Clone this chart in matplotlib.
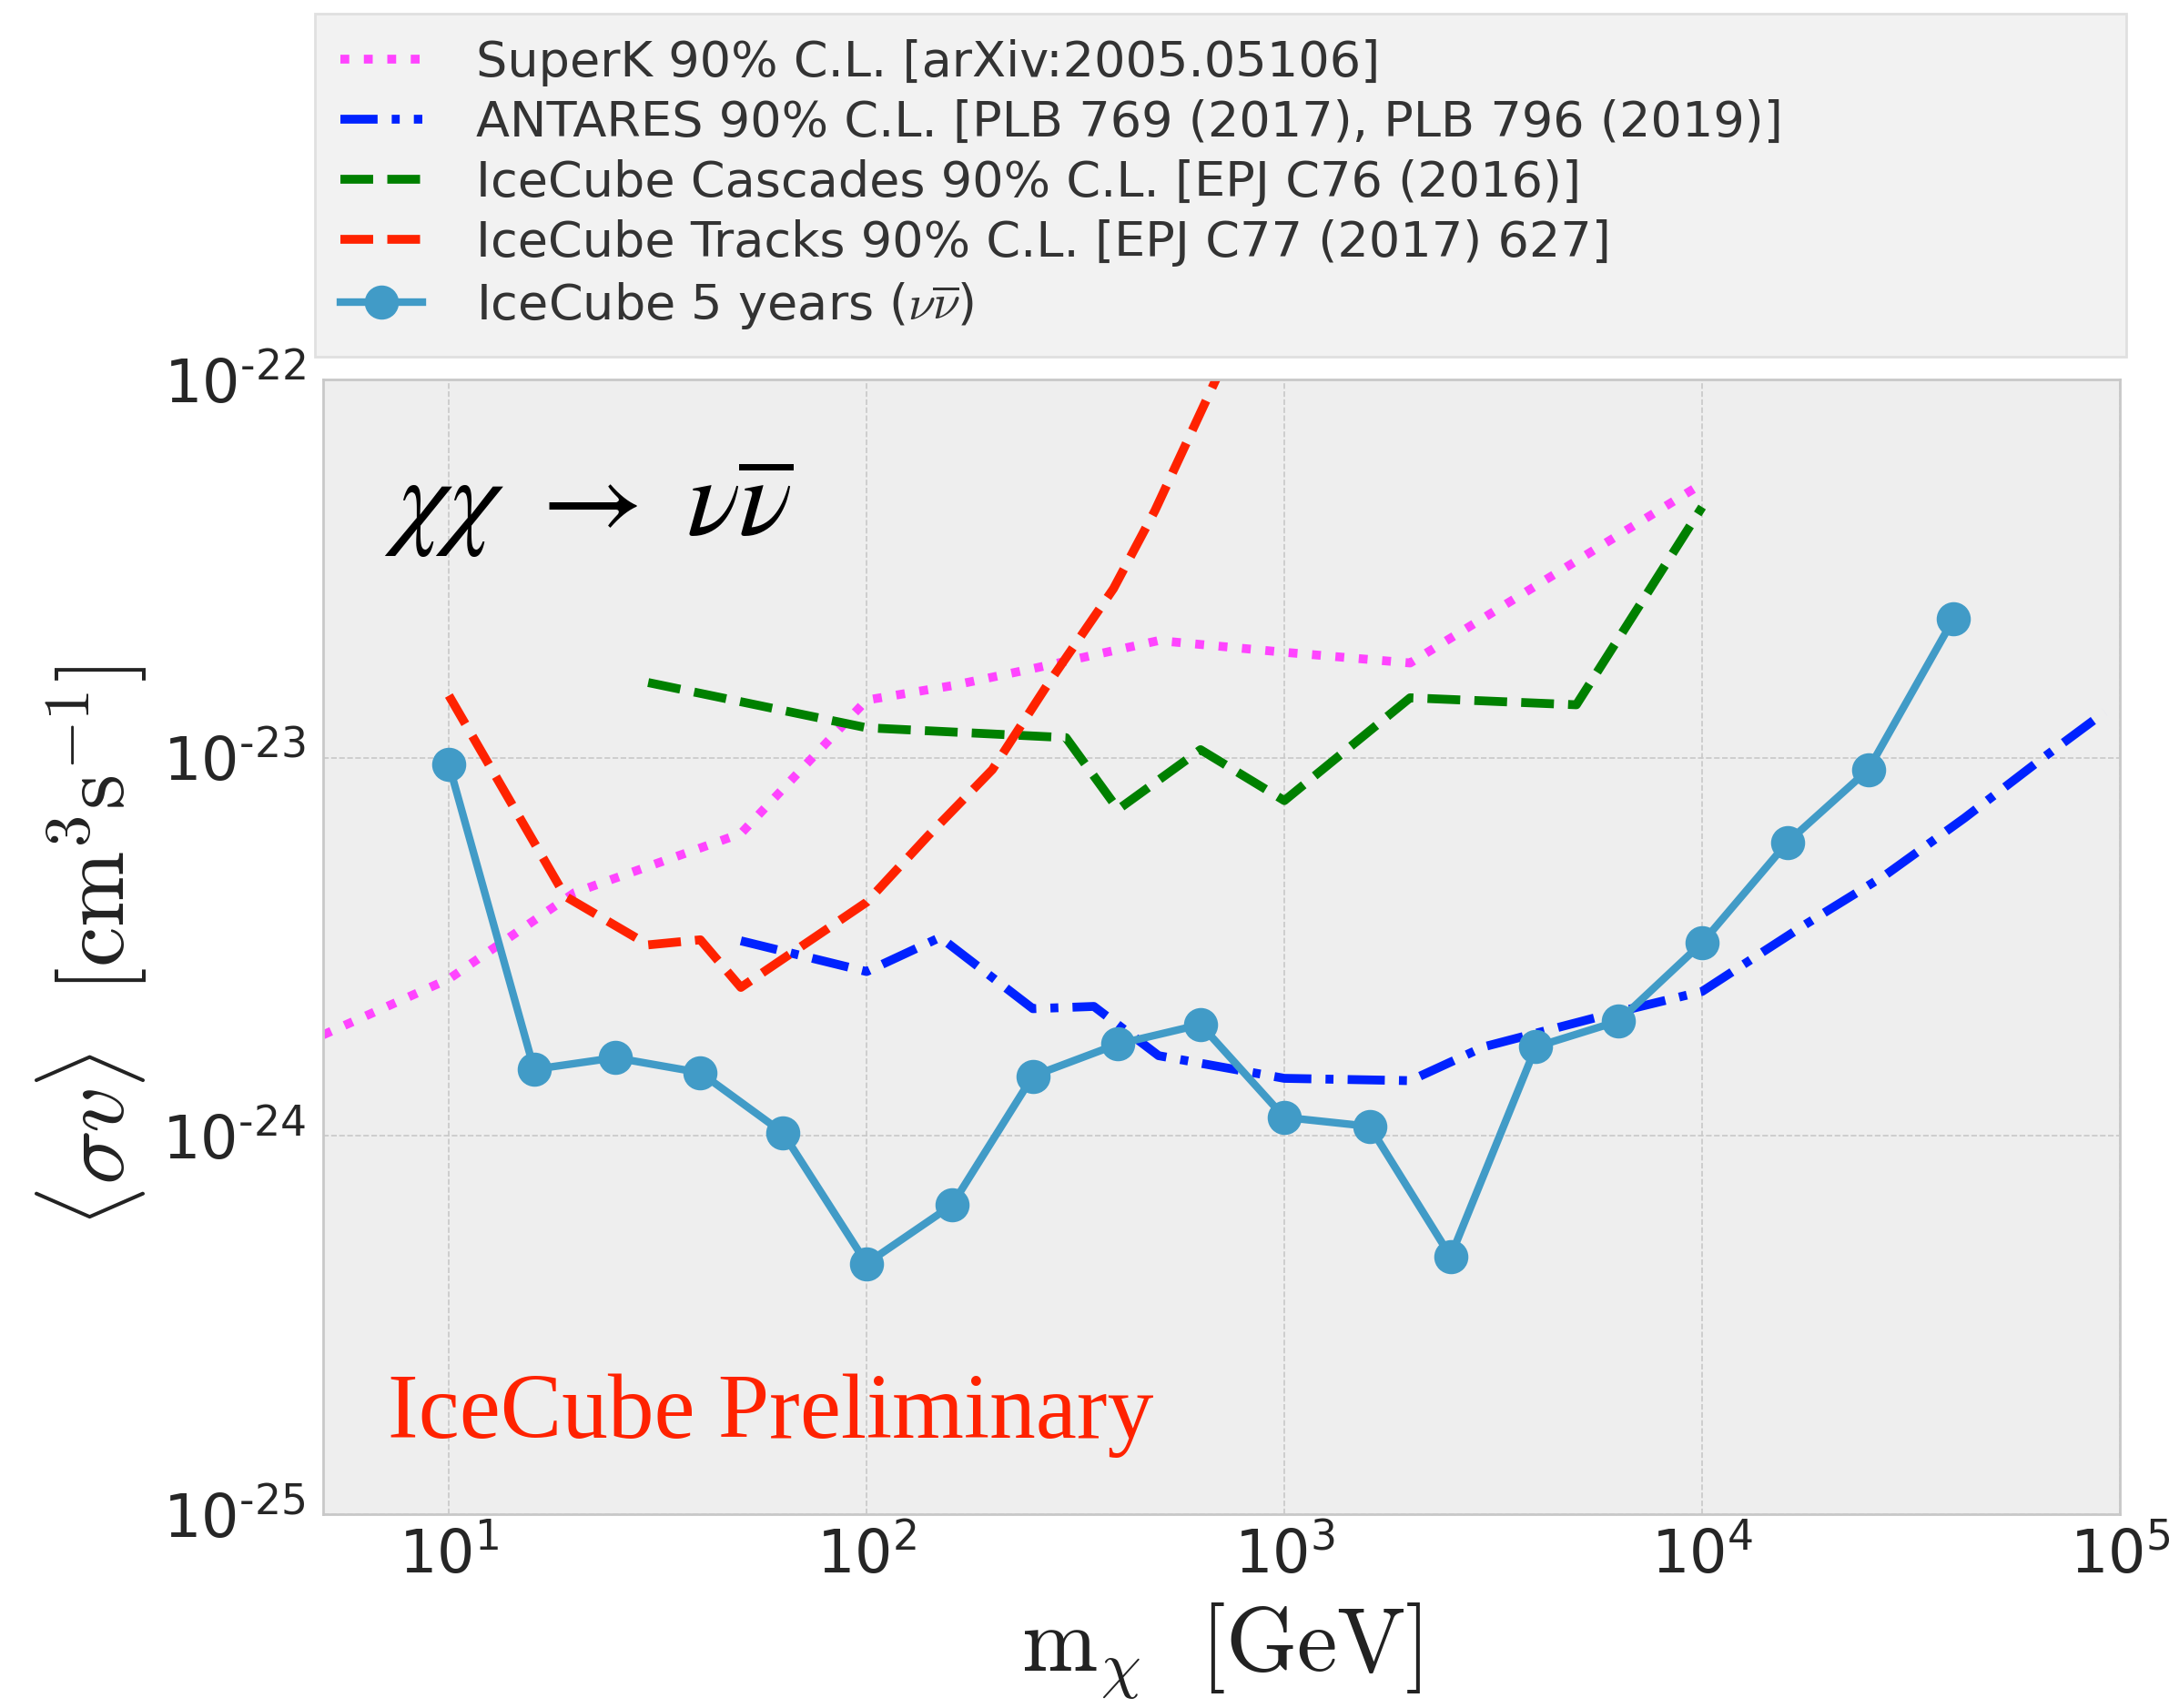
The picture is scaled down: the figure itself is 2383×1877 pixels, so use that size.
import math
import matplotlib
matplotlib.use('Agg')
from matplotlib import pyplot as plt
from matplotlib.ticker import FixedLocator, FuncFormatter, NullLocator

# SuperK 90% C.L.
superk_m = [5, 10, 20, 50, 100, 160, 250, 500, 1000, 2000, 10000]
superk_sv = [1.85e-24, 2.6e-24, 4.4e-24, 6.3e-24, 1.42e-23, 1.55e-23, 1.72e-23,
             2.04e-23, 1.9e-23, 1.78e-23, 5.3e-23]

# ANTARES 90% C.L.
antares_m = [50, 100, 150, 250, 350, 500, 1000, 2000, 3000, 6000, 10000,
             12500, 17500, 27500, 42500, 65000, 92000]
antares_sv = [3.28e-24, 2.72e-24, 3.35e-24, 2.17e-24, 2.2e-24, 1.63e-24, 1.42e-24,
              1.4e-24, 1.72e-24, 2.1e-24, 2.41e-24, 2.83e-24, 3.6e-24, 4.9e-24,
              6.93e-24, 9.93e-24, 1.32e-23]

# IceCube cascades 90% C.L.
casc_m = [30, 100, 300, 400, 630, 1000, 2000, 5000, 10000]
casc_sv = [1.58e-23, 1.2e-23, 1.13e-23, 7.3e-24, 1.05e-23, 7.7e-24, 1.44e-23,
           1.38e-23, 4.6e-23]

# IceCube tracks 90% C.L.
tracks_m = [10, 19, 30, 40, 50, 100, 140, 200, 270, 390, 490, 700]
tracks_sv = [1.46e-23, 4.3e-24, 3.2e-24, 3.3e-24, 2.47e-24, 4.15e-24, 6.2e-24,
             9.3e-24, 1.55e-23, 2.8e-23, 4.5e-23, 1.05e-22]

# IceCube 5 years (nu nubar)
ic5_m = [10, 16, 25, 40, 63, 100, 160, 250, 400, 630, 1000, 1600, 2500, 4000,
         6300, 10000, 16000, 25000, 40000]
ic5_sv = [9.6e-24, 1.5e-24, 1.61e-24, 1.47e-24, 1.02e-24, 4.6e-25, 6.56e-25,
          1.44e-24, 1.75e-24, 1.97e-24, 1.12e-24, 1.06e-24, 4.8e-25, 1.72e-24,
          2.01e-24, 3.24e-24, 5.97e-24, 9.3e-24, 2.33e-23]

xticks = [1e1, 1e2, 1e3, 1e4, 1e5]
yticks = [1e-25, 1e-24, 1e-23, 1e-22]

W, H = 2383, 1877
fig = plt.figure(figsize=(W / 100, H / 100), dpi=100)
ax = fig.add_axes([355 / W, 1 - 1664 / H, (2329 - 355) / W, (1664 - 417) / H])
ax.set_facecolor('#eeeeee')
for s in ax.spines.values():
    s.set_color('#c8c8c8')
    s.set_linewidth(2)

ax.plot(superk_m, superk_sv, color='#ff44ff', ls=':', lw=7,
        label='SuperK 90% C.L. [arXiv:2005.05106]')
ax.plot(antares_m, antares_sv, color='#0022ff', lw=7, dashes=(4.2, 1.6, 0.9, 1.6),
        label='ANTARES 90% C.L. [PLB 769 (2017), PLB 796 (2019)]')
ax.plot(casc_m, casc_sv, color='#008000', ls='--', lw=7,
        label='IceCube Cascades 90% C.L. [EPJ C76 (2016)]')
ax.plot(tracks_m, tracks_sv, color='#ff2200', ls='--', lw=7,
        label='IceCube Tracks 90% C.L. [EPJ C77 (2017) 627]')
ax.plot(ic5_m, ic5_sv, color='#419bc7', lw=6, marker='o', ms=26,
        label=r'IceCube 5 years ($\nu\overline{\nu}$)')

ax.set_xscale('log')
ax.set_yscale('log')
ax.set_xlim(5, 1e5)
ax.set_ylim(1e-25, 1e-22)
ax.xaxis.set_major_locator(FixedLocator(xticks))
ax.yaxis.set_major_locator(FixedLocator(yticks))
ax.xaxis.set_minor_locator(NullLocator())
ax.yaxis.set_minor_locator(NullLocator())


def fmt(v, pos):
    e = int(round(math.log10(v)))
    if e < 0:
        return r'$10^{\text{-}%d}$' % (-e)
    return r'$10^{%d}$' % e


ax.xaxis.set_major_formatter(FuncFormatter(fmt))
ax.yaxis.set_major_formatter(FuncFormatter(fmt))
ax.tick_params(length=0, labelsize=47, colors='#262626')
ax.tick_params(axis='x', pad=10)
ax.tick_params(axis='y', pad=14)
ax.grid(True, color='#c8c8c8', ls='--', lw=1.2)
ax.set_axisbelow(True)

ax.set_xlabel(r'$\mathrm{m}_{\chi}\ \ [\mathrm{GeV}]$', fontsize=72,
              math_fontfamily='cm', color='#222222')
ax.set_ylabel(r'$\langle\sigma v\rangle\ \ [\mathrm{cm}^3\mathrm{s}^{-1}]$', fontsize=72,
              math_fontfamily='cm', color='#222222')
ax.xaxis.set_label_coords(0.5, -0.077)
ax.yaxis.set_label_coords(-0.097, 0.5)

ax.text(0.034, 0.863, r'$\chi\chi\ \rightarrow\ \nu\overline{\nu}$', transform=ax.transAxes,
        fontsize=88, math_fontfamily='stix', va='baseline', ha='left')
ax.text(0.036, 0.067, 'IceCube Preliminary', transform=ax.transAxes,
        fontsize=73, family='Liberation Serif', color='#ff2200',
        va='baseline', ha='left')

leg = ax.legend(loc='upper left', bbox_to_anchor=(346 / W, 1 - 15 / H, (2336 - 346) / W, 0.0),
                bbox_transform=fig.transFigure, mode='expand', borderaxespad=0,
                fontsize=39, handlelength=1.65, handletextpad=1.1, labelspacing=0.26,
                borderpad=0.52, fancybox=False, framealpha=1)
leg.get_frame().set_facecolor('#f2f2f2')
leg.get_frame().set_edgecolor('#e0e0e0')
leg.get_frame().set_linewidth(2)
for t in leg.get_texts():
    t.set_color('#333333')
leg.get_texts()[-1].set_math_fontfamily('cm')

fig.savefig('out.png', dpi=100)
